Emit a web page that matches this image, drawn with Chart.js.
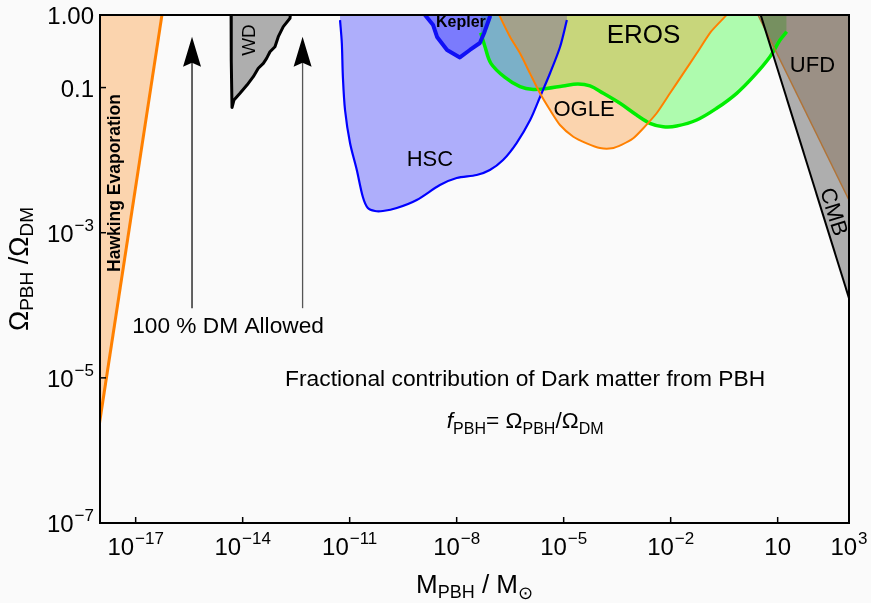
<!DOCTYPE html>
<html>
<head>
<meta charset="utf-8">
<title>PBH dark matter constraints</title>
<script src="https://cdn.jsdelivr.net/npm/chart.js@4.4.0/dist/chart.umd.min.js"></script>
<style>
  html, body { margin: 0; padding: 0; background: #fafafa; }
  #wrap { width: 871px; height: 603px; }
</style>
</head>
<body>
<div id="wrap"><canvas id="chart" width="871" height="603"></canvas></div>
<script>
// Constraint curves as log10(M/Msun) and log10(f_PBH)

const hawkingLogM = [-18.2, -16.17];
const hawkingLogF = [-6.22, 0.3];

const wdLogM = [-14.327, -14.327, -14.313, -14.299, -14.243, -14.075, -13.879, -13.702, -13.562,
                -13.421, -13.329, -13.234, -13.094, -13.001, -12.861, -12.673, -12.589];
const wdLogF = [0.35, 0, -0.62, -1.275, -1.171, -1.079, -0.965, -0.85, -0.734,
                -0.666, -0.597, -0.506, -0.437, -0.299, -0.161, -0.045, 0.35];

const hscLogM = [-11.27, -11.22, -11.19, -11.13, -10.99, -10.8, -10.63, -10.49, -10.29, -10.07, -9.68,
                 -9.12, -8.47, -8.0, -7.44, -7.07, -6.7, -6.32, -5.94, -5.66, -5.38, -5.1, -4.91];
const hscLogF = [-0.07, -0.386, -0.854, -1.309, -1.764, -2.136, -2.508, -2.66, -2.701, -2.701, -2.66,
                 -2.549, -2.343, -2.246, -2.205, -2.136, -1.998, -1.764, -1.447, -1.126, -0.799, -0.437, -0.069];

const keplerLogM = [-8.92, -8.888, -8.66, -8.55, -8.27, -7.91, -7.63, -7.35, -7.23, -7.07, -7.04];
const keplerLogF = [0.35, 0, -0.138, -0.303, -0.482, -0.585, -0.482, -0.386, -0.248, -0.028, 0.35];

const erosLogM = [-7.326, -7.206, -7.04, -6.645, -6.225, -5.852, -5.478, -5.02, -4.6, -4.262, -3.889, -3.42,
                  -2.955, -2.582, -2.207, -1.834, -1.27, -0.712, -0.149, 0.317, 0.785, 1.066, 1.252];
const erosLogF = [-0.244, -0.437, -0.666, -0.861, -0.988, -1.027, -1.013, -0.978, -0.951, -0.978, -1.079, -1.217,
                  -1.378, -1.492, -1.539, -1.53, -1.447, -1.286, -1.079, -0.85, -0.575, -0.345, -0.23];

const ogleLogM = [-7.13, -6.785, -6.505, -6.224, -5.944, -5.664, -5.383, -5.103, -4.73, -4.354, -3.981,
                  -3.654, -3.365, -3.048, -2.767, -2.394, -2.02, -1.646, -1.27, -0.87, -0.477, 0.224];
const ogleLogF = [0.35, -0.023, -0.299, -0.528, -0.804, -1.079, -1.309, -1.516, -1.677, -1.768, -1.833,
                  -1.837, -1.785, -1.699, -1.561, -1.354, -1.079, -0.804, -0.528, -0.23, -0.023, 0.35];

const ufdLogM = [0.099, 3.2];
const ufdLogF = [0.35, -2.751];

const cmbLogM = [0.302, 3.2];
const cmbLogF = [0.35, -4.215];

// "100 % DM Allowed" arrows
const arrowLogM = [-15.42, -12.32];
const arrowTailLogF = -4.04;
const arrowTipLogF = -0.3;

// Axis ticks
const xTicks = [1e-17, 1e-14, 1e-11, 1e-8, 1e-5, 1e-2, 10, 1e3];
const xTickBase = ['10', '10', '10', '10', '10', '10', '10', '10'];
const xTickExp = ['\u221217', '\u221214', '\u221211', '\u22128', '\u22125', '\u22122', '', '3'];
const yTicks = [1, 0.1, 1e-3, 1e-5, 1e-7];
const yTickBase = ['1.00', '0.1', '10', '10', '10'];
const yTickExp = ['', '', '\u22123', '\u22125', '\u22127'];

// Region labels: text, log10 M, log10 f
const labelText = ['HSC', 'Kepler', 'EROS', 'OGLE', 'UFD', 'CMB', 'WD', 'Hawking Evaporation', '100 % DM Allowed',
                   'Fractional contribution of Dark matter from PBH'];
const labelLogM = [-8.75, -7.88, -2.76, -4.43, 1.975, 2.55, -13.79, -17.58, -14.41, -6.08];
const labelLogF = [-2.0, -0.11, -0.29, -1.31, -0.703, -2.715, -0.345, -2.315, -4.30, -5.03];

const FONT = '"Liberation Sans", Arial, Helvetica, sans-serif';

function points(logM, logF) {
  return logM.map((m, i) => ({ x: Math.pow(10, m), y: Math.pow(10, logF[i]) }));
}

function region(label, logM, logF, fillColor, lineColor, lineWidth, tension) {
  return {
    label: label,
    data: points(logM, logF),
    showLine: true,
    fill: 'end',
    backgroundColor: fillColor,
    borderColor: lineColor,
    borderWidth: lineWidth,
    tension: tension,
    pointRadius: 0,
    borderJoinStyle: 'round',
  };
}

// Listed bottom to top
const layers = [
  region('EROS', erosLogM, erosLogF, 'rgba(0,255,0,0.3)', '#00ee00', 3.5, 0.35),
  region('HSC', hscLogM, hscLogF, 'rgba(0,0,255,0.3)', '#0000ff', 2.2, 0.3),
  region('Kepler', keplerLogM, keplerLogF, 'rgba(0,0,255,0.3)', '#1010f5', 4, 0),
  region('OGLE', ogleLogM, ogleLogF, 'rgba(255,127,0,0.3)', '#ff8000', 2, 0.2),
  region('Hawking', hawkingLogM, hawkingLogF, 'rgba(255,127,0,0.3)', '#ff8000', 3, 0),
  region('UFD', ufdLogM, ufdLogF, 'rgba(153,102,51,0.3)', 'rgb(176,116,56)', 1.5, 0),
  region('CMB', cmbLogM, cmbLogF, 'rgba(0,0,0,0.3)', '#000000', 2, 0),
  region('WD', wdLogM, wdLogF, 'rgba(0,0,0,0.3)', '#000000', 3, 0),
];
layers.forEach((d, i) => { d.order = layers.length - i; });

// Draws text made of runs (subscripts / superscripts / italic)
function drawRuns(ctx, runs, x, y, align, angle) {
  ctx.save();
  ctx.translate(x, y);
  if (angle) ctx.rotate(angle);
  let total = 0;
  runs.forEach(r => {
    ctx.font = (r.style || '') + ' ' + r.size + 'px ' + FONT;
    r.w = ctx.measureText(r.t).width;
    total += r.w + (r.gap || 0);
  });
  let cx = align === 'center' ? -total / 2 : align === 'right' ? -total : 0;
  ctx.textAlign = 'left';
  ctx.textBaseline = 'alphabetic';
  runs.forEach(r => {
    ctx.font = (r.style || '') + ' ' + r.size + 'px ' + FONT;
    ctx.fillText(r.t, cx, r.dy || 0);
    cx += r.w + (r.gap || 0);
  });
  ctx.restore();
}

function power(base, exp) {
  const runs = [{ t: base, size: 24 }];
  if (exp) runs.push({ t: exp, size: 17, dy: -11 });
  runs[0].gap = exp ? 1 : 0;
  return runs;
}

const decorations = {
  id: 'decorations',
  afterDraw(chart) {
    const { ctx, chartArea: a } = chart;
    const x = chart.scales.x;
    const y = chart.scales.y;
    ctx.save();
    ctx.fillStyle = '#000';
    ctx.strokeStyle = '#000';

    // frame
    ctx.lineWidth = 2;
    ctx.strokeRect(a.left, a.top, a.right - a.left, a.bottom - a.top);

    // ticks and tick labels
    ctx.lineWidth = 1.5;
    xTicks.forEach((v, i) => {
      const px = x.getPixelForValue(v);
      ctx.beginPath();
      ctx.moveTo(px, a.bottom);
      ctx.lineTo(px, a.bottom - 6);
      ctx.stroke();
      drawRuns(ctx, power(xTickBase[i], xTickExp[i]), px, a.bottom + 32, 'center');
    });
    yTicks.forEach((v, i) => {
      const py = y.getPixelForValue(v);
      ctx.beginPath();
      ctx.moveTo(a.left, py);
      ctx.lineTo(a.left + 6, py);
      ctx.stroke();
      drawRuns(ctx, power(yTickBase[i], yTickExp[i]), a.left - 6, py + 9, 'right');
    });

    // axis titles
    drawRuns(ctx, [
      { t: 'M', size: 26 }, { t: 'PBH', size: 18, dy: 5 }, { t: ' / M', size: 26 }, { t: '\u2299', size: 18, dy: 6 }
    ], (a.left + a.right) / 2, 593, 'center');
    drawRuns(ctx, [
      { t: '\u03A9', size: 27 }, { t: 'PBH', size: 19, dy: 5 }, { t: ' /\u03A9', size: 27 }, { t: 'DM', size: 19, dy: 5 }
    ], 28, (a.top + a.bottom) / 2, 'center', -Math.PI / 2);

    // arrows
    arrowLogM.forEach((m, i) => {
      const px = x.getPixelForValue(Math.pow(10, m));
      const tail = y.getPixelForValue(Math.pow(10, arrowTailLogF));
      const tip = y.getPixelForValue(Math.pow(10, arrowTipLogF));
      ctx.strokeStyle = i === 0 ? '#111' : '#555';
      ctx.lineWidth = 1.3;
      ctx.beginPath();
      ctx.moveTo(px, tail);
      ctx.lineTo(px, tip + 20);
      ctx.stroke();
      ctx.fillStyle = '#000';
      ctx.beginPath();
      ctx.moveTo(px, tip);
      ctx.lineTo(px - 9, tip + 30);
      ctx.lineTo(px, tip + 26);
      ctx.lineTo(px + 9, tip + 30);
      ctx.closePath();
      ctx.fill();
    });

    // region labels: font size, weight, rotation (deg)
    const styles = [
      [22, '', 0], [16, 'bold', 0], [26, '', 0], [22, '', 0], [22, '', 0],
      [22, '', 72.7], [19, '', -90], [17.5, 'bold', -90], [22.7, '', 0], [22.8, '', 0]
    ];
    ctx.fillStyle = '#000';
    labelText.forEach((t, i) => {
      const px = x.getPixelForValue(Math.pow(10, labelLogM[i]));
      const py = y.getPixelForValue(Math.pow(10, labelLogF[i]));
      const [size, style, deg] = styles[i];
      ctx.save();
      ctx.translate(px, py);
      ctx.rotate(deg * Math.PI / 180);
      ctx.font = style + ' ' + size + 'px ' + FONT;
      ctx.textAlign = 'center';
      ctx.textBaseline = 'middle';
      ctx.fillText(t, 0, 0);
      ctx.restore();
    });

    // f_PBH formula under the caption
    const fx = x.getPixelForValue(Math.pow(10, labelLogM[9]));
    const fy = y.getPixelForValue(Math.pow(10, labelLogF[9])) + 48;
    drawRuns(ctx, [
      { t: 'f', size: 22.7, style: 'italic' }, { t: 'PBH', size: 16, dy: 6 }, { t: '= \u03A9', size: 22.7 },
      { t: 'PBH', size: 16, dy: 6 }, { t: '/\u03A9', size: 22.7 }, { t: 'DM', size: 16, dy: 6 }
    ], fx, fy, 'center');

    ctx.restore();
  }
};

new Chart(document.getElementById('chart'), {
  type: 'scatter',
  data: { datasets: layers },
  options: {
    responsive: false,
    maintainAspectRatio: false,
    animation: false,
    events: [],
    layout: { padding: { left: 100, right: 22, top: 15, bottom: 80 } },
    plugins: {
      legend: { display: false },
      tooltip: { enabled: false },
      filler: { drawTime: 'beforeDatasetsDraw' },
    },
    scales: {
      x: { type: 'logarithmic', display: false, min: 1e-18, max: 1e3, bounds: 'data' },
      y: { type: 'logarithmic', display: false, min: 1e-7, max: 1, bounds: 'data' },
    },
  },
  plugins: [decorations],
});
</script>
</body>
</html>
